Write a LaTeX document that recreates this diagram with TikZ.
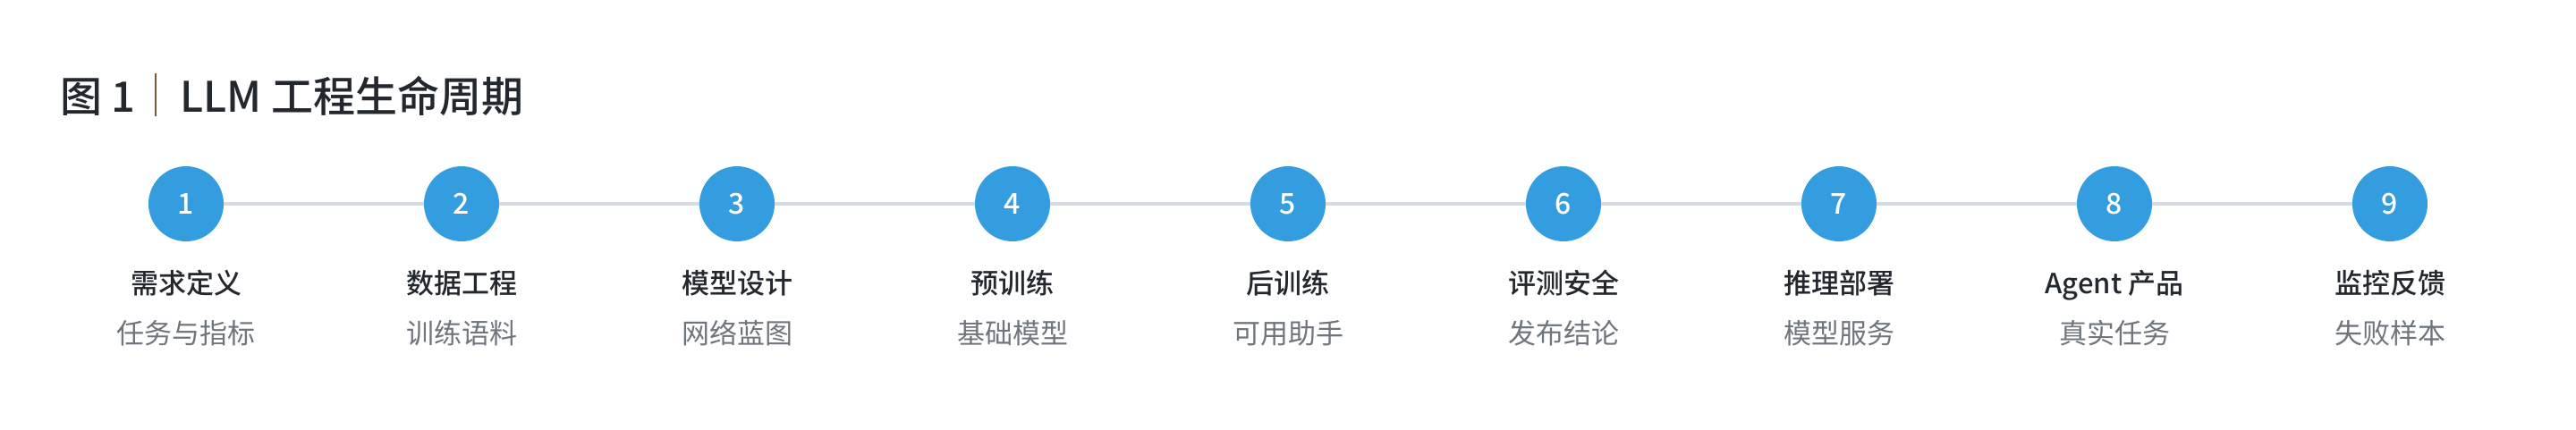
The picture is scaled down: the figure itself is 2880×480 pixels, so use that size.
\documentclass[tikz,border=0pt]{standalone}
\usepackage{fontspec}
\setmainfont{Noto Sans CJK SC}
\newfontfamily\mediumfont{Noto Sans CJK SC Medium}
\definecolor{stepblue}{HTML}{339DDF}
\definecolor{trackgray}{HTML}{D6DBE3}
\definecolor{inkdark}{HTML}{23282F}
\definecolor{inkgray}{HTML}{6F757D}
\definecolor{inkbar}{HTML}{7A5A3A}
\tikzstyle{figtext} = [anchor=base west, inner sep=0pt, text=inkdark, font=\mediumfont\fontsize{47}{47}\selectfont]
\tikzstyle{stepdot} = [circle, fill=stepblue, minimum size=84pt, inner sep=0pt, text=white, font=\mediumfont\fontsize{32}{32}\selectfont]
\tikzstyle{steptitle} = [anchor=base, inner sep=0pt, text=inkdark, font=\mediumfont\fontsize{31}{31}\selectfont]
\tikzstyle{stepnote} = [anchor=base, inner sep=0pt, text=inkgray, font=\fontsize{31}{31}\selectfont]
\tikzstyle{track} = [draw=trackgray, line width=4pt]

\begin{document}
\begin{tikzpicture}[x=1pt, y=-1pt]

		\useasboundingbox [fill=white] (0,0) rectangle (2880,480);

		\node [figtext] (fignum) at (67,125) {图 1};
		\draw [inkbar, line width=1.5pt] (174,82) -- (174,130);
		\node [figtext] (figtitle) at (201,125) {LLM 工程生命周期};

		\node [stepdot] (s1) at (208,228) {1};
		\node [steptitle] (t1) at (208,328) {需求定义};
		\node [stepnote] (n1) at (208,384) {任务与指标};

		\node [stepdot] (s2) at (516,228) {2};
		\node [steptitle] (t2) at (516,328) {数据工程};
		\node [stepnote] (n2) at (516,384) {训练语料};

		\node [stepdot] (s3) at (824,228) {3};
		\node [steptitle] (t3) at (824,328) {模型设计};
		\node [stepnote] (n3) at (824,384) {网络蓝图};

		\node [stepdot] (s4) at (1132,228) {4};
		\node [steptitle] (t4) at (1132,328) {预训练};
		\node [stepnote] (n4) at (1132,384) {基础模型};

		\node [stepdot] (s5) at (1440,228) {5};
		\node [steptitle] (t5) at (1440,328) {后训练};
		\node [stepnote] (n5) at (1440,384) {可用助手};

		\node [stepdot] (s6) at (1748,228) {6};
		\node [steptitle] (t6) at (1748,328) {评测安全};
		\node [stepnote] (n6) at (1748,384) {发布结论};

		\node [stepdot] (s7) at (2056,228) {7};
		\node [steptitle] (t7) at (2056,328) {推理部署};
		\node [stepnote] (n7) at (2056,384) {模型服务};

		\node [stepdot] (s8) at (2364,228) {8};
		\node [steptitle] (t8) at (2364,328) {Agent 产品};
		\node [stepnote] (n8) at (2364,384) {真实任务};

		\node [stepdot] (s9) at (2672,228) {9};
		\node [steptitle] (t9) at (2672,328) {监控反馈};
		\node [stepnote] (n9) at (2672,384) {失败样本};

		\draw [track] (s1) -- (s2);
		\draw [track] (s2) -- (s3);
		\draw [track] (s3) -- (s4);
		\draw [track] (s4) -- (s5);
		\draw [track] (s5) -- (s6);
		\draw [track] (s6) -- (s7);
		\draw [track] (s7) -- (s8);
		\draw [track] (s8) -- (s9);

	\end{tikzpicture}
\end{document}
